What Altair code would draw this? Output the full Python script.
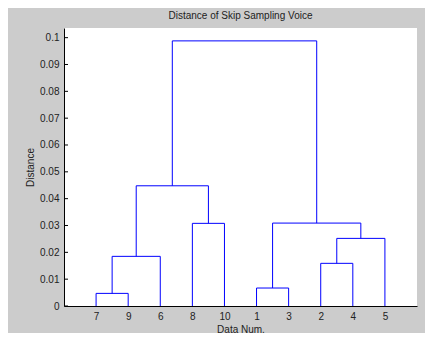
import altair as alt
import pandas as pd

# Dendrogram data (MATLAB-style linkage: leaves 1..10, clusters 11..19)
leaf_order = [7, 9, 6, 8, 10, 1, 3, 2, 4, 5]
link_left = [7, 1, 2, 11, 13, 8, 12, 14, 18]
link_right = [9, 3, 4, 6, 5, 10, 15, 16, 17]
link_height = [0.0047, 0.0067, 0.0159, 0.0185, 0.0252, 0.0308, 0.0309, 0.0448, 0.0988]
y_ticks = [0, 0.01, 0.02, 0.03, 0.04, 0.05, 0.06, 0.07, 0.08, 0.09, 0.1]

n = len(leaf_order)
xpos = {leaf: i + 1 for i, leaf in enumerate(leaf_order)}
hgt = {leaf: 0.0 for leaf in leaf_order}
rows = []
for k, (a, b, h) in enumerate(zip(link_left, link_right, link_height)):
    cid = n + 1 + k
    xa, xb = xpos[a], xpos[b]
    rows.append({"x": xa, "x2": xa, "y": hgt[a], "y2": h})
    rows.append({"x": xb, "x2": xb, "y": hgt[b], "y2": h})
    rows.append({"x": xa, "x2": xb, "y": h, "y2": h})
    xpos[cid] = (xa + xb) / 2
    hgt[cid] = h
seg = pd.DataFrame(rows)
ticks = pd.DataFrame({"t": y_ticks})

label_arr = "[" + ",".join("'%d'" % v for v in leaf_order) + "]"

xscale = alt.Scale(domain=[0, 11], nice=False, zero=False)
yscale = alt.Scale(domain=[0, 0.1036], nice=False)
yaxis = alt.Axis(values=y_ticks, format=".2~f", ticks=False, grid=False,
                 labelPadding=5, titlePadding=4, labelOverlap=False,
                 labelBound=False, labelFlush=False)

lines = alt.Chart(seg).mark_rule(color="#0000ff", strokeWidth=1).encode(
    x=alt.X("x:Q", scale=xscale, title="Data Num.",
            axis=alt.Axis(values=list(range(1, n + 1)), labelExpr=label_arr + "[datum.value-1]",
                          ticks=False, grid=False, labelPadding=5, titlePadding=3,
                          labelOverlap=False)),
    x2="x2:Q",
    y=alt.Y("y:Q", scale=yscale, title="Distance", axis=yaxis),
    y2="y2:Q",
)

tickmarks = alt.Chart(ticks).mark_rule(color="black", strokeWidth=1).encode(
    x=alt.value(0), x2=alt.value(4),
    y=alt.Y("t:Q", scale=yscale, title="Distance", axis=yaxis),
)

chart = alt.layer(lines, tickmarks).properties(
    width=353, height=278,
    title=alt.TitleParams("Distance of Skip Sampling Voice", fontSize=10, fontWeight="normal",
                          font="Liberation Sans", color="#222222", offset=7),
    background="#cccccc",
    autosize=alt.AutoSizeParams(type="none"),
    padding={"left": 56, "top": 20, "right": 8, "bottom": 27},
).configure_view(fill="white", stroke=None).configure_axis(
    labelFont="Liberation Sans", titleFont="Liberation Sans",
    labelFontSize=10, titleFontSize=10, titleFontWeight="normal",
    labelColor="#222222", titleColor="#222222",
    domainColor="black", domainWidth=1,
)

chart.save("out.html", embed_options={"renderer": "svg", "actions": False})
